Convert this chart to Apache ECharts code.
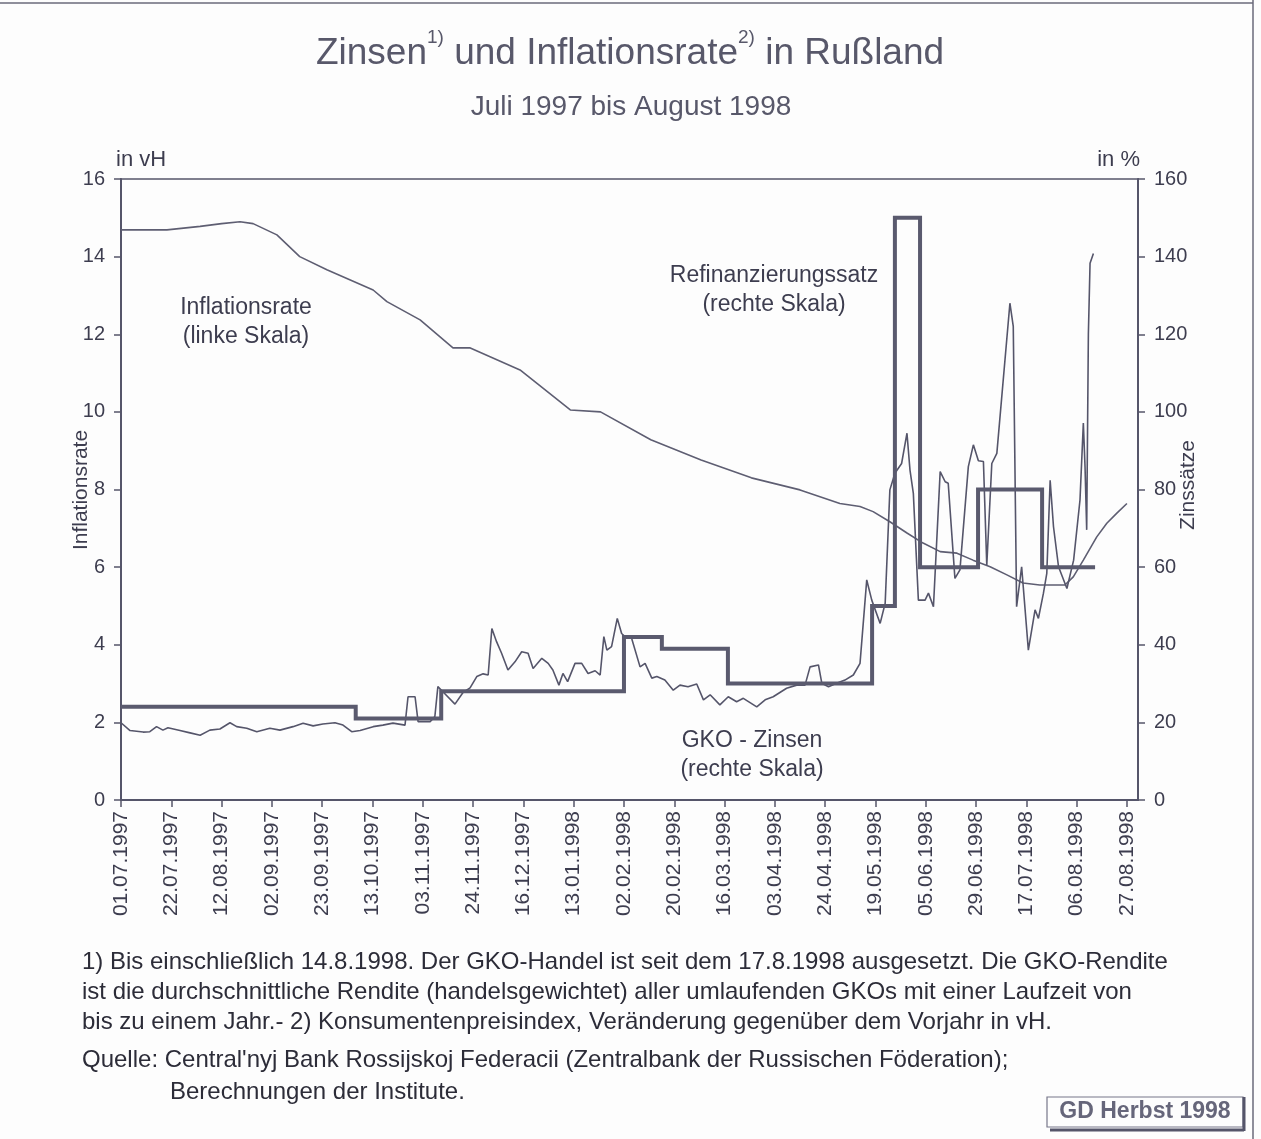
<!DOCTYPE html>
<html>
<head>
<meta charset="utf-8">
<script src="https://cdn.jsdelivr.net/npm/echarts@6/dist/echarts.min.js"></script>
<style>
html,body{margin:0;padding:0;background:#fdfdfd;}
#c{width:1261px;height:1139px;}
</style>
</head>
<body>
<div id="c"></div>
<script>
// Tick labels (every 15 trading days)
var tickLabels = ['01.07.1997','22.07.1997','12.08.1997','02.09.1997','23.09.1997','13.10.1997','03.11.1997','24.11.1997','16.12.1997','13.01.1998','02.02.1998','20.02.1998','16.03.1998','03.04.1998','24.04.1998','19.05.1998','05.06.1998','29.06.1998','17.07.1998','06.08.1998','27.08.1998'];
var leftTicks = [0,2,4,6,8,10,12,14,16];
var rightTicks = [0,20,40,60,80,100,120,140,160];

// Inflationsrate (linke Skala, vH) : trading-day index, value
var inflIdx = [0,13.7,23.6,30,35.5,39.4,46.5,53.3,61.4,75.2,79.3,89.2,99,104,119,134,143,158,173,188,202.5,214.4,220.4,224.3,229.3,234.4,239.2,244.3,249.3,254.1,259.2,264.2,269,274,281.5,284,287,291,294,297,300];
var inflVal = [14.69,14.69,14.78,14.85,14.9,14.85,14.56,14.0,13.66,13.14,12.84,12.37,11.65,11.65,11.08,10.05,10.0,9.28,8.76,8.3,7.99,7.64,7.56,7.43,7.17,6.88,6.62,6.40,6.36,6.18,6.01,5.80,5.59,5.54,5.54,5.75,6.18,6.78,7.13,7.39,7.64];

// GKO-Zinsen (rechte Skala, %)
var gkoIdx = [0,2.7,6.6,8.6,10.6,12.5,14,17.6,20.6,23.6,26.5,29.5,32.5,34.5,37.5,40.5,44.4,47.4,51.3,54.3,57.3,60.2,63.8,66.2,68.8,71.3,75.2,78.1,81.1,84.7,85.6,87.7,88.6,92.2,93.6,94.5,96,99.6,102,104.1,106.1,108,109.5,110.6,112,113.5,115.4,117.5,119.5,121.4,122.9,125.5,127.4,128.8,130.6,131.8,133.2,135.4,137.4,139.3,141.4,142.9,144,144.9,146.3,148,149.3,150.3,152.3,154.8,156.3,158.3,159.8,162.2,164.7,166.7,169.1,171.7,173.7,175.7,178.6,181.1,183.6,185.6,189.6,192.1,194.5,198.5,201.5,204,205.5,208,209,211,213.4,215.9,218.4,220.4,222.4,223.9,226.4,227.9,229.3,230.8,232.8,234.4,235.3,236.3,237.8,239.8,240.8,242.3,244.3,245.8,246.7,248.7,250.2,252.7,254.2,255.7,257.2,258.2,259.7,261.2,265.1,266.1,267.1,268.6,270.6,272.6,273.6,275.1,276.1,277.1,278.1,279.6,282.1,284.1,286,287,287.5,288,288.5,289,290];
var gkoVal = [19.9,17.9,17.5,17.6,18.9,18.0,18.6,17.9,17.3,16.7,18.0,18.3,19.9,18.9,18.5,17.6,18.5,18.0,18.9,19.8,19.1,19.6,19.9,19.3,17.6,17.9,18.9,19.3,19.8,19.3,26.6,26.6,20.2,20.2,21.5,29.2,27.9,24.7,27.7,28.9,31.8,32.5,32.2,44.2,40.8,37.8,33.5,35.6,38.2,37.8,33.9,36.5,35.2,33.5,29.6,32.6,30.5,35.2,35.2,32.6,33.3,32.2,42.1,38.6,39.5,46.8,42.9,42.1,41.6,34.3,35.2,31.4,31.8,30.9,28.3,29.6,29.2,29.9,25.8,27.1,24.5,26.6,25.3,26.2,24.0,25.8,26.6,28.8,29.6,29.6,34.3,34.8,30.1,29.2,30.1,30.9,32.2,35.2,56.7,51.5,45.5,50.7,79.9,84.2,86.7,94.5,85,79,51.5,51.5,53.3,49.8,84.6,82.0,81.6,57.1,59.3,85.9,91.5,87.4,87.2,60.5,86.7,89.3,128,122,49.8,60.1,38.6,49.0,46.8,53.3,58.4,82.4,70.4,60.1,54.5,61.8,77.3,97.1,85.9,69.6,120,138.3,140.8];

// Refinanzierungssatz (rechte Skala, %): change points
var refiIdx = [0,70,95.5,150,161.3,181,224,230.8,238.3,255.6,274.7,290.5];
var refiVal = [24,21,28,42,39,30,50,150,60,80,60,60];

function pairs(xs, ys){ return xs.map(function(x,i){ return [x, ys[i]]; }); }

var C_TEXT = '#3d3d4f';
var C_LINE = '#55556a';
var C_FOOT = '#2c2c38';
var FONT = '"Liberation Sans", Arial, Helvetica, sans-serif';

var chart = echarts.init(document.getElementById('c'), null, {renderer:'canvas'});
var tickPos = tickLabels.map(function(_, i){ return i*15; });

function foot(x, y, t){
  return {type:'text', x:x, y:y, style:{text:t, textAlign:'left', textVerticalAlign:'middle', fontSize:24, fill:C_FOOT, fontFamily:FONT}};
}

chart.setOption({
  backgroundColor:'#fdfdfd',
  animation:false,
  textStyle:{fontFamily:FONT},
  grid:{left:121, right:123, top:179, bottom:339, show:true, borderColor:C_LINE, borderWidth:1.5, backgroundColor:'transparent'},
  xAxis:{
    type:'value', min:0, max:303.3,
    axisLine:{show:true, onZero:false, lineStyle:{color:C_LINE, width:2}},
    axisTick:{show:true, customValues:tickPos, length:7, lineStyle:{color:C_LINE, width:1.5}},
    axisLabel:{customValues:tickPos, rotate:90, margin:11, color:C_TEXT, fontSize:21, fontFamily:FONT,
      formatter:function(v){ return tickLabels[Math.round(v/15)] || ''; }},
    splitLine:{show:false}
  },
  yAxis:[
    {type:'value', min:0, max:16, interval:2, position:'left',
     name:'in vH', nameLocation:'end', nameGap:8,
     nameTextStyle:{color:C_TEXT, fontSize:22, align:'left', padding:[0,0,0,-5], fontFamily:FONT},
     axisLine:{show:true, lineStyle:{color:C_LINE, width:2}},
     axisTick:{show:true, length:7, lineStyle:{color:C_LINE, width:1.5}},
     axisLabel:{color:C_TEXT, fontSize:20, margin:16, fontFamily:FONT,
       formatter:function(v){ return leftTicks.indexOf(v)>=0 ? String(v) : ''; }},
     splitLine:{show:false}},
    {type:'value', min:0, max:160, interval:20, position:'right',
     name:'in %', nameLocation:'end', nameGap:8,
     nameTextStyle:{color:C_TEXT, fontSize:22, align:'right', padding:[0,-2,0,0], fontFamily:FONT},
     axisLine:{show:true, lineStyle:{color:C_LINE, width:2}},
     axisTick:{show:true, length:7, lineStyle:{color:C_LINE, width:1.5}},
     axisLabel:{color:C_TEXT, fontSize:20, margin:16, fontFamily:FONT,
       formatter:function(v){ return rightTicks.indexOf(v)>=0 ? String(v) : ''; }},
     splitLine:{show:false}}
  ],
  series:[
    {name:'Inflationsrate', type:'line', yAxisIndex:0, data:pairs(inflIdx, inflVal), symbol:'none',
     lineStyle:{color:'#5e5e72', width:1.6}, z:2},
    {name:'GKO - Zinsen', type:'line', yAxisIndex:1, data:pairs(gkoIdx, gkoVal), symbol:'none',
     lineStyle:{color:'#55556a', width:1.6}, z:3},
    {name:'Refinanzierungssatz', type:'line', yAxisIndex:1, step:'end', data:pairs(refiIdx, refiVal), symbol:'none',
     lineStyle:{color:'#5a5a6e', width:4, join:'miter'}, z:4}
  ],
  graphic:[
    {type:'line', shape:{x1:0,y1:3,x2:1253,y2:3}, style:{stroke:'#6a6a7a', lineWidth:1.5}},
    {type:'line', shape:{x1:1253,y1:0,x2:1253,y2:1139}, style:{stroke:'#6a6a7a', lineWidth:1.5}},
    {type:'text', x:630, y:50, style:{text:'{t|Zinsen}{s|1)}{t| und Inflationsrate}{s|2)}{t| in Rußland}', textAlign:'center', textVerticalAlign:'middle',
      rich:{t:{fontSize:37, fill:'#58586a', fontFamily:FONT, lineHeight:44, verticalAlign:'bottom'},
            s:{fontSize:19, fill:'#58586a', fontFamily:FONT, lineHeight:44, verticalAlign:'top', padding:[0,0,4,0]}}}},
    {type:'text', x:631, y:107, style:{text:'Juli 1997 bis August 1998', textAlign:'center', textVerticalAlign:'middle', fontSize:28, fill:'#58586a', fontFamily:FONT}},
    {type:'text', x:246, y:322, style:{text:'Inflationsrate\n(linke Skala)', textAlign:'center', textVerticalAlign:'middle', fontSize:23, lineHeight:29, fill:C_TEXT, fontFamily:FONT}},
    {type:'text', x:774, y:290, style:{text:'Refinanzierungssatz\n(rechte Skala)', textAlign:'center', textVerticalAlign:'middle', fontSize:23, lineHeight:29, fill:C_TEXT, fontFamily:FONT}},
    {type:'text', x:752, y:755, style:{text:'GKO - Zinsen\n(rechte Skala)', textAlign:'center', textVerticalAlign:'middle', fontSize:23, lineHeight:29, fill:C_TEXT, fontFamily:FONT}},
    {type:'text', x:81, y:490, rotation:Math.PI/2, style:{text:'Inflationsrate', textAlign:'center', textVerticalAlign:'middle', fontSize:21, fill:C_TEXT, fontFamily:FONT}},
    {type:'text', x:1188, y:485, rotation:Math.PI/2, style:{text:'Zinssätze', textAlign:'center', textVerticalAlign:'middle', fontSize:21, fill:C_TEXT, fontFamily:FONT}},
    foot(82, 962, '1) Bis einschließlich 14.8.1998. Der GKO-Handel ist seit dem 17.8.1998 ausgesetzt. Die GKO-Rendite'),
    foot(82, 992, 'ist die durchschnittliche Rendite (handelsgewichtet) aller umlaufenden GKOs mit einer Laufzeit von'),
    foot(82, 1022, 'bis zu einem Jahr.- 2) Konsumentenpreisindex, Veränderung gegenüber dem Vorjahr in vH.'),
    foot(82, 1060, 'Quelle: Central\'nyj Bank Rossijskoj Federacii (Zentralbank der Russischen Föderation);'),
    foot(170, 1092, 'Berechnungen der Institute.'),
    {type:'rect', shape:{x:1047,y:1097,width:196,height:30}, style:{fill:'#fdfdfd', stroke:'#77778a', lineWidth:1.2}},
    {type:'line', shape:{x1:1244,y1:1097,x2:1244,y2:1131}, style:{stroke:'#55556a', lineWidth:3}},
    {type:'line', shape:{x1:1050,y1:1130,x2:1244,y2:1130}, style:{stroke:'#55556a', lineWidth:3}},
    {type:'text', x:1145, y:1112, style:{text:'GD Herbst 1998', textAlign:'center', textVerticalAlign:'middle', fontSize:23, fontWeight:'bold', fill:'#66667a', fontFamily:FONT}}
  ]
});
</script>
</body>
</html>
